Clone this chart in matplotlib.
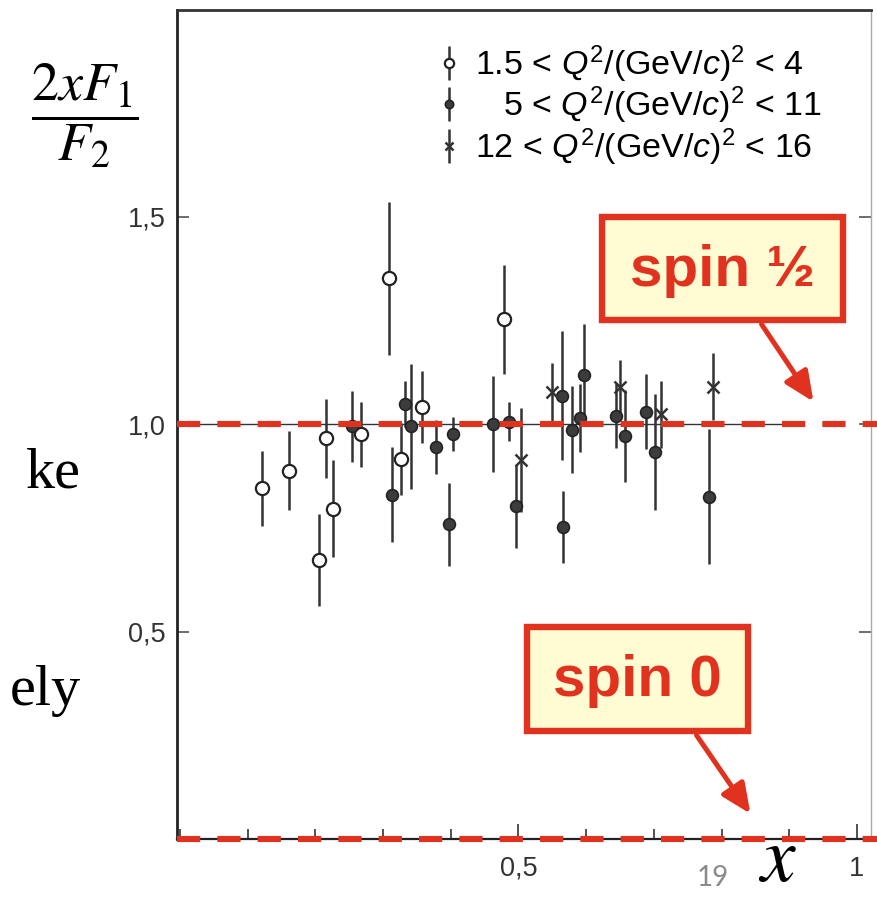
import matplotlib
matplotlib.use("Agg")
import matplotlib.pyplot as plt
from matplotlib.patches import Rectangle, FancyArrowPatch, ArrowStyle
from matplotlib.ticker import FixedLocator, MultipleLocator

plt.rcParams['font.family'] = ['Liberation Sans', 'DejaVu Sans']
plt.rcParams['mathtext.fontset'] = 'custom'
plt.rcParams['mathtext.rm'] = 'Liberation Sans'
plt.rcParams['mathtext.it'] = 'Liberation Sans:italic'

# ---- data ----
x_open = [0.121, 0.161, 0.206, 0.216, 0.226, 0.267, 0.309, 0.326, 0.357, 0.478]
y_open = [0.845, 0.887, 0.672, 0.966, 0.796, 0.975, 1.351, 0.916, 1.041, 1.252]
e_open = [0.090, 0.095, 0.110, 0.095, 0.117, 0.078, 0.185, 0.087, 0.087, 0.132]

x_fill = [0.254, 0.313, 0.332, 0.341, 0.378, 0.397, 0.404, 0.463, 0.486, 0.497,
          0.564, 0.566, 0.579, 0.591, 0.597, 0.644, 0.658, 0.689, 0.701, 0.782]
y_fill = [0.994, 0.830, 1.048, 0.994, 0.945, 0.758, 0.976, 1.000, 1.006, 0.802,
          1.068, 0.751, 0.986, 1.015, 1.118, 1.020, 0.971, 1.030, 0.933, 0.825]
e_fill = [0.085, 0.115, 0.056, 0.150, 0.065, 0.100, 0.040, 0.115, 0.048, 0.100,
          0.155, 0.087, 0.105, 0.082, 0.123, 0.078, 0.110, 0.090, 0.140, 0.163]

x_cross = [0.503, 0.550, 0.650, 0.711, 0.787]
y_cross = [0.913, 1.077, 1.090, 1.023, 1.090]
e_cross = [0.125, 0.070, 0.065, 0.080, 0.080]

labels = [r"1.5 < $Q^2$/(GeV/$c$)$^2$ < 4",
          r"   5 < $Q^2$/(GeV/$c$)$^2$ < 11",
          r"12 < $Q^2$/(GeV/$c$)$^2$ < 16"]

xticks = [0.5, 1.0]
xticklabels = ["0,5", "1"]
yticks = [0.5, 1.0, 1.5]
yticklabels = ["0,5", "1,0", "1,5"]
ref_levels = [1.0, 0.0]   # spin 1/2 and spin 0 expectations

RED = "#e1321f"
FILL = "#fffbd2"
W, H = 877, 897

def fx(px):
    return px / W

def fy(py):
    return 1 - py / H

fig = plt.figure(figsize=(W / 100, H / 100), dpi=100)
ax = fig.add_axes([fx(177), fy(839), (871 - 177) / W, (839 - 10) / H])
ax.set_xlim(-0.0044, 1.0207)
ax.set_ylim(0, 1.9976)

# thin line of original chart at 1
ax.plot([0.0, 0.92], [1.0, 1.0], color="#333333", lw=1.0, zorder=1)

ecol = "#333333"
h1 = ax.errorbar(x_open, y_open, yerr=e_open, fmt='o', ms=9.5, mfc='white', mec='#222222',
                 mew=1.6, ecolor=ecol, elinewidth=1.8, capsize=0, zorder=3, label=labels[0])
h2 = ax.errorbar(x_fill, y_fill, yerr=e_fill, fmt='o', ms=8.5, mfc='#3c3c3c', mec='#222222',
                 mew=1.2, ecolor=ecol, elinewidth=1.8, capsize=0, zorder=3, label=labels[1])
h3 = ax.errorbar(x_cross, y_cross, yerr=e_cross, fmt='x', ms=9, mec='#333333', mew=1.8,
                 ecolor=ecol, elinewidth=1.8, capsize=0, zorder=3, label=labels[2])

leg = ax.legend(handles=[h1, h2, h3], loc='upper left',
                bbox_to_anchor=(fx(439), fy(43)), bbox_transform=fig.transFigure,
                frameon=False, fontsize=24.5, handlelength=0.6, handletextpad=0.45,
                labelspacing=0.0, borderaxespad=0, borderpad=0, markerscale=0.7)

# red dashed reference lines (slide overlay)
for lev in ref_levels:
    ax.axhline(lev, xmin=0, xmax=(W - 177) / (871 - 177), color=RED, lw=4.4,
               dashes=(3.8, 2.8), clip_on=False, zorder=6)

# ticks
ax.xaxis.set_major_locator(FixedLocator(xticks))
ax.set_xticklabels(xticklabels)
ax.xaxis.set_minor_locator(MultipleLocator(0.1))
ax.yaxis.set_major_locator(FixedLocator(yticks))
ax.set_yticklabels(yticklabels)
ax.tick_params(axis='x', which='major', direction='in', length=11, width=1.2,
               color='#333333', labelsize=19.5, labelcolor='#333333', pad=12, top=False)
ax.tick_params(axis='x', which='minor', direction='in', length=7, width=1.2,
               color='#333333', top=False)
ax.tick_params(axis='y', which='major', direction='in', length=8.5, width=1.2,
               color='#555555', labelsize=19.5, labelcolor='#333333', pad=8,
               left=True, right=True)

ax.spines['left'].set_linewidth(2.0)
ax.spines['left'].set_color('#222222')
ax.spines['top'].set_linewidth(2.0)
ax.spines['top'].set_color('#333333')
ax.spines['bottom'].set_linewidth(1.6)
ax.spines['bottom'].set_color('#222222')
ax.spines['right'].set_linewidth(1.0)
ax.spines['right'].set_color('#aaaaaa')

# annotation boxes
def box(x0, y0, x1, y1, text):
    r = Rectangle((fx(x0), fy(y1)), fx(x1) - fx(x0), fy(y0) - fy(y1),
                  transform=fig.transFigure, facecolor=FILL, edgecolor=RED, lw=4.6, zorder=10)
    fig.patches.append(r)
    fig.text(fx((x0 + x1) / 2), fy((y0 + y1) / 2 + 2), text, color=RED, fontsize=42,
             fontweight='bold', ha='center', va='center', zorder=11)

def arrow(p0, p1):
    a = FancyArrowPatch((fx(p0[0]), fy(p0[1])), (fx(p1[0]), fy(p1[1])),
                        transform=fig.transFigure,
                        arrowstyle=ArrowStyle('-|>', head_length=1.0, head_width=0.45),
                        mutation_scale=18, color=RED, lw=3.6, zorder=10)
    fig.patches.append(a)

box(602, 217, 843, 320, "spin \u00bd")
arrow((760, 322), (815, 404))
box(527, 627, 748, 731, "spin 0")
arrow((695, 733), (752, 816))

# axis labels of the slide
fig.text(fx(85), fy(116), r"$\dfrac{2xF_1}{F_2}$", fontsize=39, math_fontfamily='stix',
         ha='center', va='center')
fig.text(fx(758), fy(897), r"$x$", fontsize=56, math_fontfamily='stix',
         ha='left', va='bottom')
fig.text(fx(713), fy(878), "19", fontsize=20, family='Lato', color='#8a8a8a',
         ha='center', va='center')

# cut-off slide text on the left
fig.text(fx(81), fy(487), "ke", fontsize=42, family='Liberation Serif',
         ha='right', va='baseline')
fig.text(fx(81), fy(705), "ely", fontsize=42, family='Liberation Serif',
         ha='right', va='baseline')

fig.savefig("out.png", dpi=100)
